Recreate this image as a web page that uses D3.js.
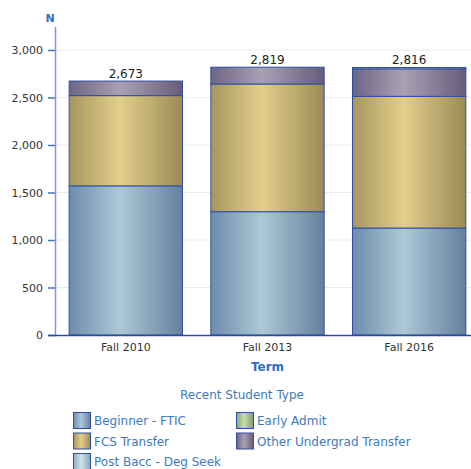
<html>
<head>
<script src="https://cdn.jsdelivr.net/npm/d3@7"></script>
<style>
  body { margin: 0; background: #fff; }
  text { font-family: "DejaVu Sans", Verdana, sans-serif; }
</style>
</head>
<body>
<div id="chart"></div>
<script>
// data
const terms = ["Fall 2010", "Fall 2013", "Fall 2016"];
const types = ["Beginner - FTIC", "Early Admit", "FCS Transfer", "Other Undergrad Transfer", "Post Bacc - Deg Seek"];
const beginner = [1570, 1298, 1126];
const earlyAdmit = [0, 0, 0];
const fcsTransfer = [950, 1344, 1386];
const otherTransfer = [153, 177, 290];
const postBacc = [0, 0, 14];
const totalLabels = ["2,673", "2,819", "2,816"];
const yTicks = [0, 500, 1000, 1500, 2000, 2500, 3000];

// gradient colours per type: edge, centre, right edge
const palette = [
  ["#6e8cad", "#adc8d6", "#65809f"],
  ["#8ea87a", "#c6dcab", "#829d70"],
  ["#a8965f", "#e2cf8b", "#9c8a56"],
  ["#6d6585", "#a9a1b2", "#655d7c"],
  ["#8fb0c0", "#cfe2e8", "#86a6b6"]
];

const W = 471, H = 469;
const svg = d3.select("#chart").append("svg").attr("width", W).attr("height", H);
const defs = svg.append("defs");
palette.forEach((c, i) => {
  const g = defs.append("linearGradient").attr("id", "grad" + i)
    .attr("x1", "0%").attr("x2", "100%").attr("y1", "0%").attr("y2", "0%");
  g.append("stop").attr("offset", "0%").attr("stop-color", c[0]);
  g.append("stop").attr("offset", "45%").attr("stop-color", c[1]);
  g.append("stop").attr("offset", "100%").attr("stop-color", c[2]);
});

const rows = terms.map((t, i) => ({
  term: t,
  "Beginner - FTIC": beginner[i],
  "Early Admit": earlyAdmit[i],
  "FCS Transfer": fcsTransfer[i],
  "Other Undergrad Transfer": otherTransfer[i],
  "Post Bacc - Deg Seek": postBacc[i],
  label: totalLabels[i]
}));

const stacked = d3.stack().keys(types)(rows);

const x = d3.scaleBand().domain(terms).range([55, 480]).paddingInner(0.2).paddingOuter(0.1);
const y = d3.scaleLinear().domain([0, 3000]).range([335, 50]);

// gridlines
svg.append("g").selectAll("line").data(yTicks.slice(1)).enter().append("line")
  .attr("x1", 56).attr("x2", W).attr("y1", d => y(d)).attr("y2", d => y(d))
  .attr("stroke", "#ececec").attr("stroke-width", 1);

// y axis
const yAxis = svg.append("g").attr("transform", "translate(56,0)")
  .call(d3.axisLeft(y).tickValues(yTicks).tickFormat(d3.format(",")).tickSize(8).tickPadding(5));
yAxis.select(".domain").remove();
yAxis.selectAll(".tick line").attr("stroke", "#4a6fc0").attr("stroke-width", 1.5);
yAxis.selectAll(".tick text").attr("fill", "#333").style("font-size", "11px")
  .style("font-family", "'DejaVu Sans', Verdana, sans-serif");
svg.append("line").attr("x1", 55.5).attr("x2", 55.5).attr("y1", 27).attr("y2", 335)
  .attr("stroke", "#7f9ad6").attr("stroke-width", 1.5);

// bars
svg.append("g").selectAll("g").data(stacked).enter().append("g")
  .attr("fill", (d, i) => "url(#grad" + i + ")")
  .selectAll("rect").data(d => d.filter(s => s[1] - s[0] > 0)).enter().append("rect")
  .attr("x", d => x(d.data.term))
  .attr("width", x.bandwidth())
  .attr("y", d => y(d[1]))
  .attr("height", d => y(d[0]) - y(d[1]))
  .attr("stroke", "#2f4fa0").attr("stroke-width", 1);

// x axis line
svg.append("line").attr("x1", 48).attr("x2", W).attr("y1", 335.5).attr("y2", 335.5)
  .attr("stroke", "#2b4c9c").attr("stroke-width", 1.5);

// x labels
svg.append("g").selectAll("text").data(terms).enter().append("text")
  .attr("x", d => x(d) + x.bandwidth() / 2).attr("y", 351)
  .attr("text-anchor", "middle").attr("fill", "#333").style("font-size", "11px")
  .text(d => d);

// totals
svg.append("g").selectAll("text").data(rows).enter().append("text")
  .attr("x", d => x(d.term) + x.bandwidth() / 2)
  .attr("y", d => y(d3.sum(types, k => d[k])) - 3)
  .attr("text-anchor", "middle").attr("fill", "#222").style("font-size", "12px")
  .text(d => d.label);

// axis titles
svg.append("text").attr("x", 50).attr("y", 22).attr("text-anchor", "middle")
  .attr("fill", "#2f6fbf").style("font-size", "11px").style("font-weight", "bold").text("N");
svg.append("text").attr("x", x("Fall 2013") + x.bandwidth() / 2).attr("y", 371).attr("text-anchor", "middle")
  .attr("fill", "#2f6fbf").style("font-size", "12px").style("font-weight", "bold").text("Term");

// legend
svg.append("text").attr("x", 242).attr("y", 399).attr("text-anchor", "middle")
  .attr("fill", "#3d7abf").style("font-size", "12px").text("Recent Student Type");
const legend = svg.append("g").selectAll("g").data(types).enter().append("g")
  .attr("transform", (d, i) => "translate(" + (i % 2 === 0 ? 73 : 236) + "," + (412 + Math.floor(i / 2) * 20.5) + ")");
legend.append("rect").attr("width", 17).attr("height", 16).attr("x", 0.5).attr("y", 0.5)
  .attr("fill", (d, i) => "url(#grad" + i + ")").attr("stroke", "#2f4fa0").attr("stroke-width", 1);
legend.append("text").attr("x", 21).attr("y", 13).attr("fill", "#3d7abf").style("font-size", "12px").text(d => d);
</script>
</body>
</html>
